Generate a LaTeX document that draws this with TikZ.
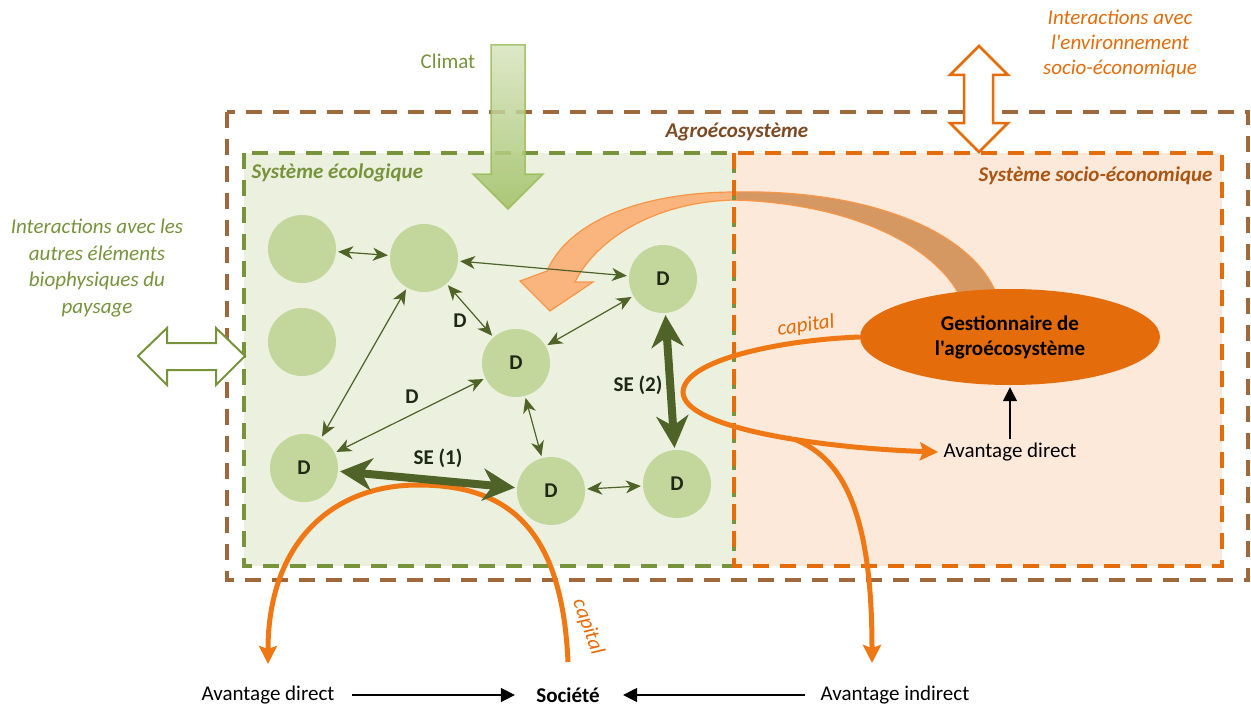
\documentclass[tikz,border=0pt]{standalone}
\usepackage{fontspec}
\setmainfont{Carlito}[Ligatures=TeXOff]
\usetikzlibrary{arrows.meta,shapes.geometric}
\definecolor{brn}{RGB}{158,104,58}
\definecolor{gdash}{RGB}{119,147,60}
\definecolor{odash}{RGB}{228,108,10}
\definecolor{gfill}{RGB}{235,241,222}
\definecolor{ofill}{RGB}{253,233,217}
\definecolor{cfill}{RGB}{195,214,155}
\definecolor{dgreen}{RGB}{79,98,40}
\definecolor{dtxt}{RGB}{30,40,20}
\definecolor{gtxt}{RGB}{119,147,60}
\definecolor{otxt}{RGB}{228,108,10}
\definecolor{sotxt}{RGB}{170,85,20}
\definecolor{agtxt}{RGB}{125,75,35}
\definecolor{eor}{RGB}{228,108,10}
\definecolor{orln}{RGB}{240,120,20}
\definecolor{carrL}{RGB}{250,180,125}
\definecolor{carrS}{RGB}{247,150,70}
\definecolor{carrR}{RGB}{214,152,98}
\definecolor{climT}{RGB}{215,228,190}
\definecolor{climB}{RGB}{160,192,100}
\definecolor{climS}{RGB}{155,187,89}
\begin{document}
\begin{tikzpicture}[x=1pt,y=-1pt,
  every node/.style={font=\fontsize{21}{26}\selectfont},
  circ/.style={circle, fill=cfill, minimum size=68pt, inner sep=0pt, text=dtxt, font=\bfseries\fontsize{21}{26}\selectfont},
  thinarr/.style={draw=dgreen, line width=1.2pt, {Stealth[length=15pt,width=13pt,inset=4.5pt]}-{Stealth[length=15pt,width=13pt,inset=4.5pt]}, shorten <=2pt, shorten >=2pt},
  thickarr/.style={draw=dgreen, line width=8pt, {Stealth[length=32pt,width=32pt,inset=10pt]}-{Stealth[length=32pt,width=32pt,inset=10pt]}, shorten <=2pt, shorten >=2pt},
  lbl/.style={text=dtxt, font=\bfseries\fontsize{21}{26}\selectfont},
  orl/.style={draw=orln, line width=5pt, -{Stealth[length=18pt,width=18pt,inset=3pt]}},
  blk/.style={draw=black, line width=1.5pt, -{Triangle[length=14pt,width=14pt]}},
  dashline/.style={line width=3.2pt, dash pattern=on 16pt off 11pt},
  blockarr/.style={line width=2.5pt, fill=white}
]
\useasboundingbox (0,0) rectangle (1251,709);
\fill[white] (0,0) rectangle (1251,709);

% box fills
\fill[gfill] (244,153) rectangle (734,566);
\fill[ofill] (734,153) rectangle (1222,566);

% big curved orange arrow
\filldraw[fill=carrR, draw=carrS, line width=1.2pt] (733,192) .. controls (870,189) and (975,232) .. (998,298) -- (961,298) .. controls (935,245) and (850,203) .. (733,200) -- cycle;
\filldraw[fill=carrL, draw=carrS, line width=1.2pt] (736,192) .. controls (640,192) and (568,222) .. (547,271) -- (520,281) -- (550,311) -- (593,282) -- (575,282) .. controls (598,236) and (660,201) .. (736,200) -- cycle;

% dashed boxes
\draw[brn, dashline] (227,112) rectangle (1248,580);
\draw[gdash, dashline] (244,153) rectangle (734,566);
\draw[odash, dashline] (734,153) rectangle (1222,566);

% climat arrow
\shadedraw[top color=climT, bottom color=climB, draw=climS, line width=1.5pt, opacity=0.85]
  (491,45) -- (525,45) -- (525,174) -- (543,174) -- (508,209) -- (473,174) -- (491,174) -- cycle;
\node[text=gtxt] (climat) at (448,61) {Climat};

% top-right double arrow
\draw[blockarr, draw=odash] (979,46) -- (1008,75) -- (993,75) -- (993,123) -- (1008,123) -- (979,152) -- (950,123) -- (964,123) -- (964,75) -- (950,75) -- cycle;
\node[text=otxt, align=center, font=\itshape\fontsize{21}{25}\selectfont] (envse) at (1120,44) {Interactions avec\\l'environnement\\socio-économique};

% left double arrow
\draw[blockarr, draw=gdash, line width=2pt] (138,356) -- (167,328) -- (167,343) -- (216,343) -- (216,328) -- (245,356) -- (216,385) -- (216,370) -- (167,370) -- (167,385) -- cycle;
\node[text=gtxt, align=center, font=\itshape\fontsize{21}{26.5}\selectfont] (bio) at (97,268) {Interactions avec les\\autres éléments\\biophysiques du\\paysage};

% labels of boxes
\node[text=agtxt, font=\bfseries\itshape\fontsize{21}{26}\selectfont] (agro) at (737,132) {Agroécosystème};
\node[text=gtxt, anchor=west, font=\bfseries\itshape\fontsize{21}{26}\selectfont] (seco) at (248,173) {Système écologique};
\node[text=sotxt, anchor=east, font=\bfseries\itshape\fontsize{21}{26}\selectfont] (ssoc) at (1216,176) {Système socio-économique};

% orange arch (bottom)
\coordinate (capS) at (568,662);
\coordinate (archE) at (268,664);
\draw[orl] (capS) .. controls (562,525) and (505,485) .. (418,485) .. controls (330,485) and (268,545) .. (archE);
\node[text=otxt, font=\itshape\fontsize{21}{26}\selectfont, rotate=-70] (cap2) at (588,627) {capital};

% circles
\node[circ] (A) at (302,249) {};
\node[circ] (B) at (424,258) {};
\node[circ] (C) at (302,342) {};
\node[circ] (E) at (663,279) {D};
\node[circ] (F) at (516,363) {D};
\node[circ] (G) at (304,468) {D};
\node[circ] (H) at (551,491) {D};
\node[circ] (I) at (677,484) {D};

% thin arrows
\draw[thinarr] (A) -- (B);
\draw[thinarr] (B) -- (E);
\draw[thinarr] (B) -- (F);
\draw[thinarr] (B) -- (G);
\draw[thinarr] (G) -- (F);
\draw[thinarr] (F) -- (E);
\draw[thinarr] (F) -- (H);
\draw[thinarr] (H) -- (I);
\node[lbl] (d1) at (460,321) {D};
\node[lbl] (d2) at (412,397) {D};

% thick arrows
\draw[thickarr] (G) -- (H);
\draw[thickarr] (E) -- (I);
\node[lbl] (se1) at (438,458) {SE (1)};
\node[lbl] (se2) at (638,385) {SE (2)};

% gestionnaire
\node[ellipse, fill=eor, minimum width=300pt, minimum height=96pt, inner sep=0pt, align=center, font=\bfseries\fontsize{21}{25}\selectfont] (g) at (1010,337) {Gestionnaire de\\l'agroécosystème};
\node (ad) at (1010,452) {Avantage direct};
\draw[blk, shorten >=2pt] (ad.north) -- (g.south);

% orange loop
\draw[orl] (g.west) .. controls (780,340) and (684,360) .. (683,392) .. controls (683,428) and (820,448) .. ([xshift=-2pt]ad.west);
\node[text=otxt, font=\itshape\fontsize{21}{26}\selectfont, rotate=8] (cap1) at (806,326) {capital};
\coordinate (br) at (794,439);
\coordinate (brE) at (872,663);
\draw[orl] (br) .. controls (842,458) and (872,510) .. (brE);

% bottom row
\node (avd) at (268,695) {Avantage direct};
\node[font=\bfseries\fontsize{21}{26}\selectfont] (soc) at (568,695) {Société};
\node (avi) at (895,695) {Avantage indirect};
\draw[blk, shorten <=14pt, shorten >=18pt] (avd.east) -- (soc.west);
\draw[blk, shorten <=12pt, shorten >=20pt] (avi.west) -- (soc.east);
\end{tikzpicture}
\end{document}
